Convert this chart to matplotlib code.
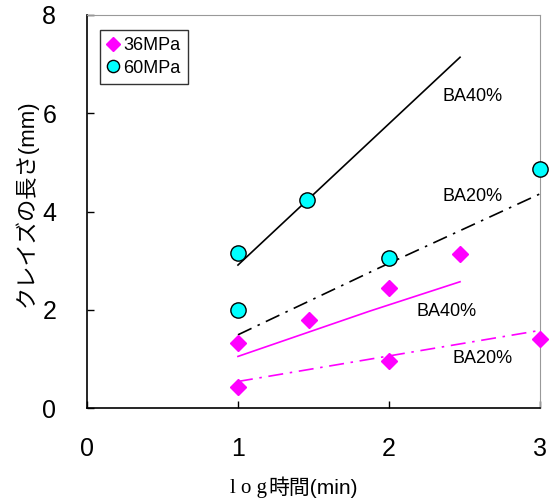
import matplotlib
matplotlib.use("Agg")
import matplotlib.pyplot as plt

plt.rcParams['font.family'] = ['Liberation Sans', 'Noto Sans CJK JP', 'DejaVu Sans']

# measured points
x36 = [1, 1.47, 2, 2.47, 1, 2, 3]
y36 = [1.33, 1.80, 2.44, 3.14, 0.42, 0.95, 1.40]
x60 = [1, 1.46, 1, 2, 3]
y60 = [3.15, 4.24, 2.00, 3.05, 4.87]

# fitted lines
x60_40 = [1, 2.47]
y60_40 = [2.91, 7.14]
x60_20 = [1, 1.94, 3]
y60_20 = [1.49, 2.86, 4.36]
x36_40 = [1, 1.87, 2.47]
y36_40 = [1.05, 1.97, 2.57]
x36_20 = [1, 2, 3]
y36_20 = [0.54, 1.06, 1.58]

labels = [("BA40%", 2.55, 6.35), ("BA20%", 2.55, 4.3),
          ("BA40%", 2.38, 1.97), ("BA20%", 2.62, 1.0)]

fig = plt.figure(figsize=(5.5, 5), dpi=100)
ax = fig.add_axes([0.158, 0.184, 0.824, 0.786])

dashdot = (0, (9, 4, 1.5, 4))
ax.plot(x60_40, y60_40, color='black', lw=1.2, zorder=2)
ax.plot(x60_20, y60_20, color='black', lw=1.2, ls=dashdot, zorder=2)
ax.plot(x36_40, y36_40, color='#ff00ff', lw=1.2, zorder=2)
ax.plot(x36_20, y36_20, color='#ff00ff', lw=1.2, ls=dashdot, zorder=2)

ax.plot(x36, y36, ls='none', marker='D', ms=8.5, color='#ff00ff',
        mec='#ff00ff', label='36MPa', zorder=3, clip_on=False)
ax.plot(x60, y60, ls='none', marker='o', ms=11, color='#00ffff',
        mec='black', mew=1, label='60MPa', zorder=3, clip_on=False)

for t, tx, ty in labels:
    ax.text(tx, ty, t, fontsize=13, ha='center', va='center')

ax.set_xlim(0, 3)
ax.set_ylim(0, 8)
ax.set_xticks([0, 1, 2, 3])
ax.set_yticks([0, 2, 4, 6, 8])
ax.tick_params(direction='in', length=5, labelsize=18, width=1)
ax.tick_params(axis='x', pad=21)
ax.tick_params(axis='y', pad=22)
for s in ['top', 'right']:
    ax.spines[s].set_color('#999999')
for s in ['left', 'bottom']:
    ax.spines[s].set_linewidth(1.2)

# x label: "l o g" in a serif face, then 時間(min)
t1 = ax.text(0.315, -0.205, 'l o g', transform=ax.transAxes, fontsize=15,
             family='Liberation Serif', ha='left', va='center')
ax.annotate('時間(min)', xy=(1, 0), xycoords=t1, xytext=(1, 0),
            textcoords='offset points', fontsize=15, ha='left', va='bottom')

ax.set_ylabel('クレイズの長さ(mm)', fontsize=16)
ax.yaxis.set_label_coords(-0.108, 0.52)

leg = ax.legend(loc='upper left', bbox_to_anchor=(0.029, 0.962), fontsize=13,
                frameon=True, fancybox=False, handlelength=0.6,
                handletextpad=0.3, borderpad=0.4, labelspacing=0.3,
                borderaxespad=0, markerscale=0.8)
leg.get_frame().set_edgecolor('black')
leg.get_frame().set_linewidth(1)

fig.savefig('out.png', dpi=100)
